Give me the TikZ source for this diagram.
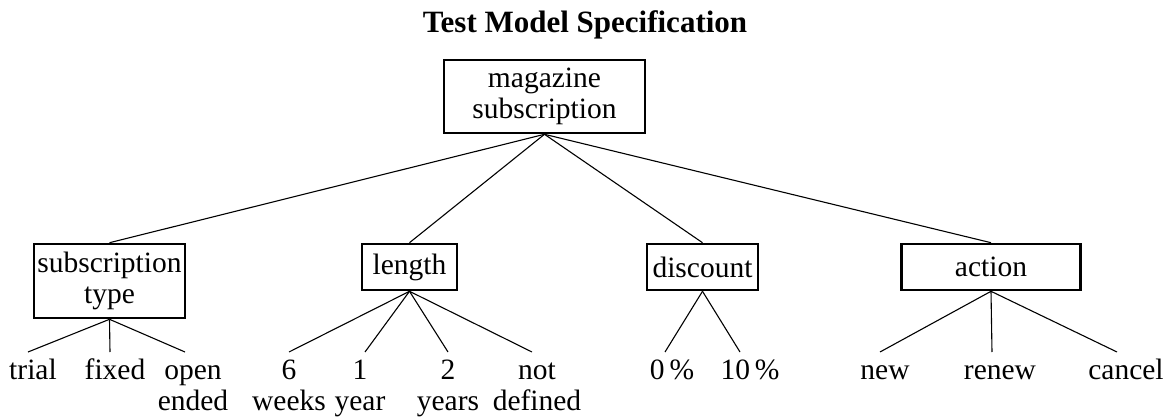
\documentclass[tikz,border=0pt]{standalone}
\usepackage{fontspec}
\setmainfont{Liberation Serif}
\begin{document}
\begin{tikzpicture}[x=1pt, y=1pt, line width=1.1pt, font=\fontsize{29.5}{31}\selectfont,
    box/.style={draw, line width=2.6pt, inner sep=0pt, align=center},
    leaf/.style={anchor=base, inner sep=0pt, align=center}]
    \useasboundingbox (0,0) rectangle (1165,416);
    \node [anchor=base, font=\bfseries\fontsize{31}{36}\selectfont] (title) at (585,383) {Test Model Specification};
    \node [box, minimum width=201pt, minimum height=73pt] (mag) at (544.5,319.5) {magazine\\subscription};
    \node [box, minimum width=151pt, minimum height=74pt] (type) at (109.5,135) {subscription\\type};
    \node [box, minimum width=95pt, minimum height=46pt] (length) at (409.5,149) {length};
    \node [box, minimum width=111pt, minimum height=46pt] (discount) at (702.5,149) {discount};
    \node [box, minimum width=179pt, minimum height=46pt] (action) at (991,149) {action};
    % leaves: one line at base 37, two lines at base 6
    \node [leaf] (trial) at (33,37) {trial};
    \node [leaf] (fixed) at (115,37) {fixed};
    \node [leaf] (open) at (193,6) {open\\ended};
    \node [leaf] (weeks) at (289,6) {6\\weeks};
    \node [leaf] (year) at (360,6) {1\\year};
    \node [leaf] (years) at (448,6) {2\\years};
    \node [leaf] (undef) at (537,6) {not\\defined};
    \node [leaf] (zero) at (672,37) {0\,\%};
    \node [leaf] (ten) at (750,37) {10\,\%};
    \node [leaf] (new) at (885,37) {new};
    \node [leaf] (renew) at (1000,37) {renew};
    \node [leaf] (cancel) at (1126,37) {cancel};
    \draw (mag.south) -- (type.north);
    \draw (mag.south) -- (length.north);
    \draw (mag.south) -- (discount.north);
    \draw (mag.south) -- (action.north);
    \draw (type.south) -- ([xshift=-5pt, yshift=27pt]trial.base);
    \draw (type.south) -- ([xshift=-5pt, yshift=27pt]fixed.base);
    \draw (type.south) -- ([xshift=-8pt, yshift=58pt]open.base);
    \draw (length.south) -- ([yshift=58pt]weeks.base);
    \draw (length.south) -- ([xshift=5pt, yshift=58pt]year.base);
    \draw (length.south) -- ([yshift=58pt]years.base);
    \draw (length.south) -- ([xshift=-5pt, yshift=58pt]undef.base);
    \draw (discount.south) -- ([xshift=-7pt, yshift=27pt]zero.base);
    \draw (discount.south) -- ([xshift=-10pt, yshift=27pt]ten.base);
    \draw (action.south) -- ([xshift=-5pt, yshift=27pt]new.base);
    \draw (action.south) -- ([xshift=-8pt, yshift=27pt]renew.base);
    \draw (action.south) -- ([xshift=-9pt, yshift=27pt]cancel.base);
\end{tikzpicture}
\end{document}
